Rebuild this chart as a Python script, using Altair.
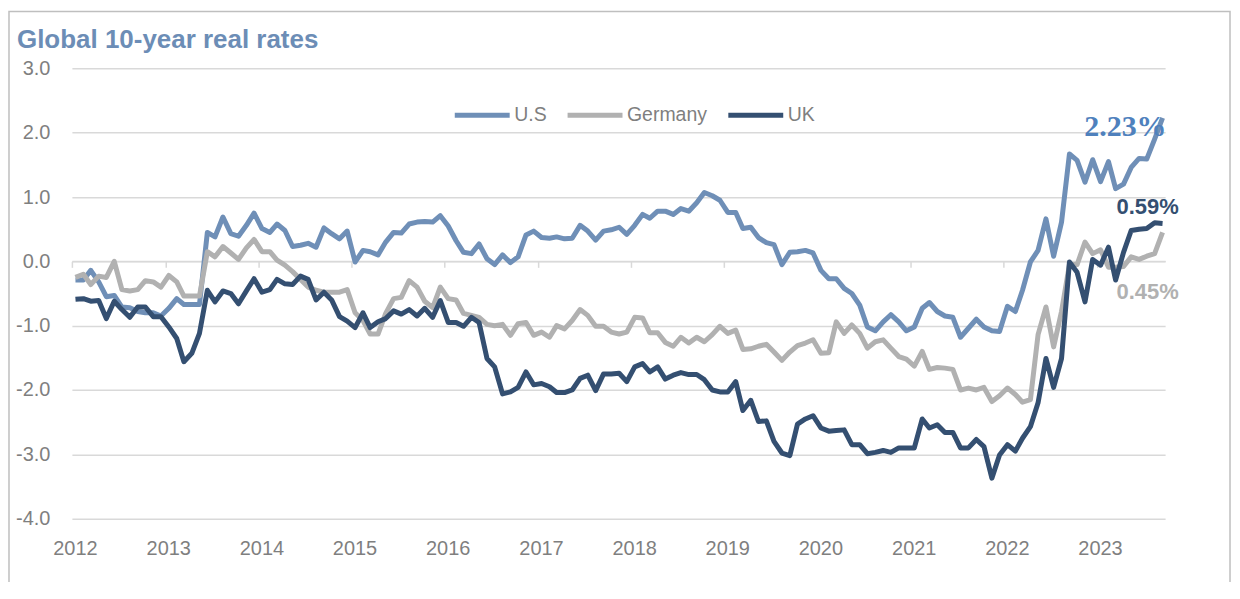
import altair as alt
import pandas as pd

# ---- data (monthly, Jan 2012 - Sep 2023) ----
us = [
    -0.29, -0.29, -0.14, -0.32, -0.55, -0.53, -0.71, -0.72, -0.78, -0.80, -0.80, -0.85,
    -0.73, -0.58, -0.67, -0.67, -0.67, 0.45, 0.38, 0.69, 0.43, 0.39, 0.56, 0.75,
    0.51, 0.45, 0.58, 0.48, 0.23, 0.25, 0.28, 0.22, 0.52, 0.43, 0.35, 0.47,
    -0.01, 0.17, 0.15, 0.10, 0.30, 0.45, 0.44, 0.58, 0.61, 0.62, 0.61, 0.71,
    0.55, 0.32, 0.14, 0.12, 0.27, 0.04, -0.05, 0.10, -0.02, 0.07, 0.41, 0.47,
    0.37, 0.36, 0.38, 0.35, 0.36, 0.56, 0.47, 0.33, 0.47, 0.49, 0.53, 0.42,
    0.56, 0.73, 0.67, 0.78, 0.78, 0.73, 0.82, 0.78, 0.91, 1.07, 1.02, 0.95,
    0.76, 0.76, 0.51, 0.53, 0.37, 0.29, 0.26, -0.05, 0.14, 0.15, 0.17, 0.13,
    -0.14, -0.27, -0.27, -0.42, -0.50, -0.68, -1.02, -1.08, -0.94, -0.83, -0.94, -1.08,
    -1.02, -0.73, -0.64, -0.78, -0.85, -0.87, -1.18, -1.04, -0.90, -1.02, -1.08, -1.09,
    -0.70, -0.78, -0.45, -0.01, 0.17, 0.66, 0.08, 0.61, 1.67, 1.57, 1.23, 1.58,
    1.24, 1.55, 1.13, 1.20, 1.46, 1.60, 1.59, 1.90, 2.23,
]
germany = [
    -0.25, -0.20, -0.36, -0.23, -0.25, 0.00, -0.44, -0.46, -0.44, -0.30, -0.32, -0.40,
    -0.22, -0.32, -0.54, -0.54, -0.54, 0.15, 0.07, 0.23, 0.13, 0.03, 0.21, 0.34,
    0.15, 0.15, 0.02, -0.06, -0.16, -0.28, -0.40, -0.45, -0.48, -0.48, -0.48, -0.44,
    -0.80, -0.92, -1.13, -1.13, -0.81, -0.58, -0.56, -0.30, -0.40, -0.62, -0.72, -0.40,
    -0.58, -0.60, -0.81, -0.84, -0.87, -0.98, -1.00, -0.98, -1.15, -0.97, -0.95, -1.15,
    -1.10, -1.18, -1.00, -1.05, -0.92, -0.75, -0.84, -1.01, -1.01, -1.10, -1.13, -1.10,
    -0.87, -0.88, -1.11, -1.11, -1.26, -1.32, -1.18, -1.27, -1.18, -1.25, -1.14, -1.01,
    -1.12, -1.07, -1.37, -1.36, -1.32, -1.29, -1.41, -1.54, -1.41, -1.31, -1.27, -1.22,
    -1.43, -1.42, -0.94, -1.12, -0.99, -1.12, -1.35, -1.25, -1.22, -1.35, -1.48, -1.52,
    -1.63, -1.40, -1.68, -1.65, -1.66, -1.68, -2.00, -1.97, -2.00, -1.96, -2.18, -2.09,
    -1.97, -2.07, -2.19, -2.15, -1.14, -0.71, -1.33, -0.78, -0.05, -0.05, 0.30, 0.12,
    0.18, -0.09, -0.09, -0.08, 0.07, 0.03, 0.08, 0.12, 0.45,
]
uk = [
    -0.59, -0.58, -0.62, -0.61, -0.89, -0.62, -0.75, -0.87, -0.71, -0.71, -0.86, -0.86,
    -1.02, -1.20, -1.56, -1.43, -1.12, -0.45, -0.63, -0.46, -0.50, -0.66, -0.46, -0.27,
    -0.48, -0.44, -0.28, -0.35, -0.36, -0.23, -0.28, -0.60, -0.48, -0.60, -0.86, -0.93,
    -1.03, -0.80, -1.03, -0.94, -0.89, -0.77, -0.82, -0.75, -0.85, -0.73, -0.87, -0.61,
    -0.95, -0.95, -1.01, -0.87, -0.95, -1.51, -1.64, -2.06, -2.03, -1.96, -1.72, -1.92,
    -1.90, -1.95, -2.04, -2.04, -2.00, -1.82, -1.77, -2.01, -1.75, -1.75, -1.74, -1.87,
    -1.64, -1.59, -1.72, -1.64, -1.83, -1.77, -1.73, -1.76, -1.76, -1.84, -2.00, -2.03,
    -2.03, -1.87, -2.32, -2.16, -2.49, -2.48, -2.80, -2.98, -3.02, -2.53, -2.45, -2.40,
    -2.59, -2.64, -2.63, -2.62, -2.85, -2.85, -2.99, -2.97, -2.94, -2.97, -2.90, -2.90,
    -2.90, -2.45, -2.59, -2.54, -2.66, -2.66, -2.90, -2.90, -2.77, -2.88, -3.37, -3.01,
    -2.85, -2.95, -2.75, -2.57, -2.20, -1.51, -1.96, -1.51, -0.01, -0.17, -0.63, 0.03,
    -0.06, 0.22, -0.29, 0.14, 0.48, 0.50, 0.51, 0.60, 0.59,
]
series_names = ["U.S", "Germany", "UK"]
series_colors = ["#6f8fb7", "#b1b1b1", "#344f71"]
end_labels = ["2.23%", "0.45%", "0.59%"]
years = list(range(2012, 2024))
y_ticks = [-4, -3, -2, -1, 0, 1, 2, 3]
title_text = "Global 10-year real rates"

dates = [f"{2012 + m // 12}-{m % 12 + 1:02d}-15" for m in range(len(us))]

rows = []
for name, vals in zip(series_names, [us, germany, uk]):
    for d, v in zip(dates, vals):
        rows.append({"date": d, "series": name, "value": v})
df = pd.DataFrame(rows)

last = pd.DataFrame({
    "date": [dates[-1]] * 3,
    "series": series_names,
    "value": [us[-1], germany[-1], uk[-1]],
    "label": end_labels,
})

FONT = "Liberation Sans"
GRID = "#d9d9d9"
LABEL_GRAY = "#7f7f7f"

x_enc = alt.X(
    "date:T",
    scale=alt.Scale(type="utc",
                    domain=[alt.DateTime(year=2012, month=1, date=1, utc=True),
                            alt.DateTime(year=2023, month=9, date=25, utc=True)]),
    axis=alt.Axis(
        values=[alt.DateTime(year=y, month=1, date=1, utc=True) for y in years],
        labelExpr="utcFormat(datum.value, '%Y')",
        title=None, grid=False,
        offset=-257.7,
        domain=True, domainColor=GRID, domainWidth=1.5,
        ticks=True, tickColor=GRID, tickWidth=1.5, tickSize=6,
        labelPadding=272, labelOffset=3, labelBaseline="top",
        labelFlush=False, labelOverlap=False,
        labelFont=FONT, labelFontSize=20, labelColor=LABEL_GRAY,
    ),
)
y_enc = alt.Y(
    "value:Q",
    scale=alt.Scale(domain=[-4, 3], nice=False, zero=False),
    axis=alt.Axis(
        values=y_ticks,
        labelExpr="(datum.value < 0 ? '-' : '') + format(abs(datum.value), '.1f')",
        title=None, grid=True, gridColor=GRID, gridWidth=1.5,
        domain=False, ticks=False, labelPadding=22,
        labelFont=FONT, labelFontSize=20, labelColor=LABEL_GRAY,
    ),
)
color_enc = alt.Color(
    "series:N",
    scale=alt.Scale(domain=series_names, range=series_colors),
    legend=alt.Legend(
        orient="none", legendX=381, legendY=17, direction="horizontal",
        title=None, symbolType="stroke", symbolSize=3025, symbolStrokeWidth=5,
        labelFont=FONT, labelFontSize=19.5, labelColor=LABEL_GRAY,
        labelOffset=2, columnPadding=10, padding=0,
    ),
)

base = alt.Chart(df).encode(x=x_enc, y=y_enc)

lines = [
    base.transform_filter(alt.datum.series == name)
    .mark_line(strokeWidth=5, strokeJoin="round")
    .encode(color=color_enc)
    for name in series_names
]

tbase = alt.Chart(last).encode(x=x_enc, y=y_enc, text="label:N")
txt_us = tbase.transform_filter(alt.datum.series == "U.S").mark_text(
    align="right", baseline="middle", dx=4, dy=9,
    font="Liberation Serif", fontWeight="bold", fontSize=30, color="#4f81bd")
txt_de = tbase.transform_filter(alt.datum.series == "Germany").mark_text(
    align="center", baseline="middle", dx=-15, dy=60,
    font=FONT, fontWeight="bold", fontSize=22, color="#b1b1b1")
txt_uk = tbase.transform_filter(alt.datum.series == "UK").mark_text(
    align="center", baseline="middle", dx=-15, dy=-16,
    font=FONT, fontWeight="bold", fontSize=22, color="#344f71")

dummy = pd.DataFrame({"t": [title_text]})
frame = alt.Chart(dummy).mark_rect(fill="transparent", stroke="#bfbfbf", strokeWidth=1.5).encode(
    x=alt.value(-63), x2=alt.value(1160), y=alt.value(-57), y2=alt.value(700))
title = alt.Chart(dummy).mark_text(
    align="left", baseline="alphabetic", font=FONT, fontWeight="bold",
    fontSize=26, color="#6c8db6").encode(text="t:N", x=alt.value(-55), y=alt.value(-20))

chart = alt.layer(frame, title, *lines, txt_us, txt_de, txt_uk).properties(
    width=1095, height=451,
    padding={"left": 64, "top": 60, "right": 67, "bottom": 63},
    autosize=alt.AutoSizeParams(type="none"),
).configure_view(strokeWidth=0)

chart.save("out.html", embed_options={"renderer": "svg", "actions": False})
